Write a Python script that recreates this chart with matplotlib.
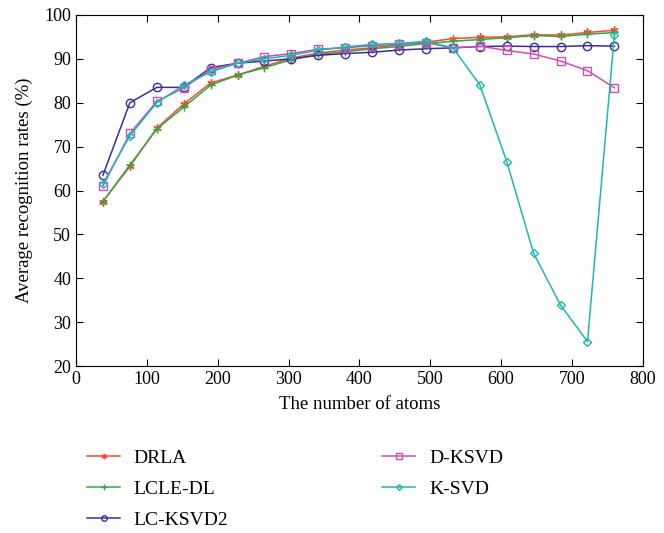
import matplotlib
matplotlib.use("Agg")
import matplotlib.pyplot as plt

plt.rcParams["font.family"] = ["Liberation Serif", "DejaVu Serif"]

atoms = [38, 76, 114, 152, 190, 228, 266, 304, 342, 380,
         418, 456, 494, 532, 570, 608, 646, 684, 722, 760]

drla = [57.5, 65.5, 74.2, 79.7, 84.5, 86.3, 88.3, 90.2, 91.3, 92.0,
        92.5, 93.2, 93.8, 94.6, 94.9, 95.0, 95.5, 95.4, 96.0, 96.5]
lcle_dl = [57.5, 65.8, 74.0, 79.0, 84.0, 86.3, 88.0, 89.8, 91.0, 91.6,
           92.3, 92.8, 93.5, 94.0, 94.4, 94.8, 95.3, 95.1, 95.6, 96.0]
lc_ksvd2 = [63.5, 80.0, 83.5, 83.5, 88.0, 89.0, 89.5, 90.0, 90.8, 91.2,
            91.5, 92.0, 92.3, 92.5, 92.8, 92.9, 92.8, 92.8, 93.0, 92.9]
d_ksvd = [61.0, 73.0, 80.3, 83.4, 87.5, 89.0, 90.5, 91.2, 92.2, 92.5,
          93.0, 93.3, 93.7, 92.5, 92.9, 91.9, 91.1, 89.5, 87.3, 83.4]
k_svd = [61.5, 72.5, 80.0, 84.0, 87.0, 89.0, 90.0, 90.8, 92.0, 92.7,
         93.3, 93.5, 94.0, 92.5, 84.1, 66.6, 45.7, 33.9, 25.6, 95.5]

series = [
    ("DRLA", drla, "#f04e30", (6, 2, 0)),
    ("LCLE-DL", lcle_dl, "#2fa845", "+"),
    ("LC-KSVD2", lc_ksvd2, "#3b2d96", "o"),
    ("D-KSVD", d_ksvd, "#cc4faf", "s"),
    ("K-SVD", k_svd, "#1cb8b6", "D"),
]

fig = plt.figure(figsize=(6.64, 5.33), dpi=100)
ax = fig.add_axes([0.1145, 0.313, 0.8535, 0.659])

for name, vals, col, mk in series:
    ms = 4.5 if mk == "D" else 6
    ax.plot(atoms, vals, color=col, lw=1.1, marker=mk, ms=ms,
            mfc="none", mec=col, mew=1.0, label=name)

ax.set_xlim(0, 800)
ax.set_ylim(20, 100)
ax.set_xticks(range(0, 801, 100))
ax.set_yticks(range(20, 101, 10))
ax.tick_params(direction="in", top=True, right=True, labelsize=13, length=5)
ax.set_xlabel("The number of atoms", fontsize=13.5, labelpad=6)
ax.set_ylabel("Average recognition rates (%)", fontsize=13.5, labelpad=8)

fig.legend(loc="upper left", bbox_to_anchor=(0.105, 0.19), ncol=2,
           frameon=False, fontsize=14, columnspacing=7.9, handlelength=1.7,
           handletextpad=0.7, labelspacing=0.68, markerscale=0.65)

fig.savefig("out.png", dpi=100)
